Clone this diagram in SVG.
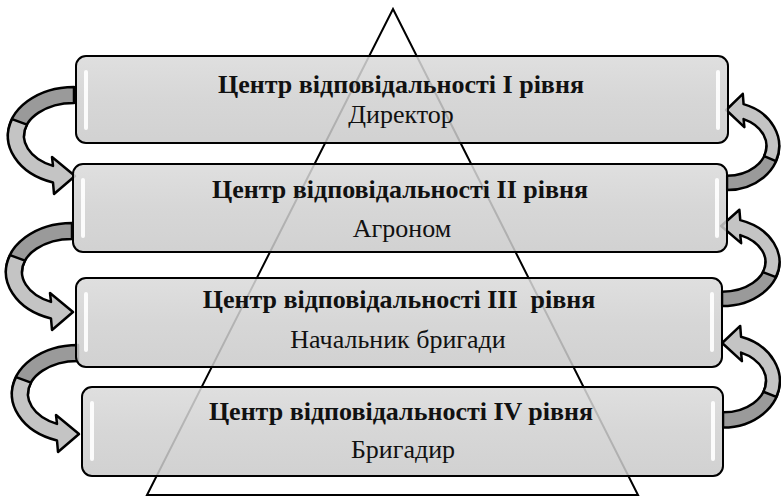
<svg xmlns="http://www.w3.org/2000/svg" xmlns:xlink="http://www.w3.org/1999/xlink" width="781" height="499" viewBox="0 0 781 499">
<style>
.box{fill:url(#boxGrad);fill-opacity:0.86;stroke:#000;stroke-width:2}
.gloss{fill:#fff;opacity:0.9}
.back{fill:#9a9a9a;stroke:#000;stroke-width:2.5;stroke-linejoin:round;vector-effect:non-scaling-stroke}
.front{fill:#c4c4c4;stroke:#000;stroke-width:2.5;stroke-linejoin:round;vector-effect:non-scaling-stroke}
.t1{font-family:"Liberation Serif","Times New Roman",serif;font-weight:bold;font-size:26px;fill:#111;text-anchor:middle}
.t2{font-family:"Liberation Serif","Times New Roman",serif;font-size:26px;fill:#111;text-anchor:middle}
.pyr{fill:#fff;stroke:#000;stroke-width:2;stroke-linejoin:miter}
</style>
<defs>
<linearGradient id="boxGrad" x1="0" y1="0" x2="0" y2="1">
<stop offset="0" stop-color="#dadada"/>
<stop offset="0.5" stop-color="#d0d0d0"/>
<stop offset="1" stop-color="#cacaca"/>
</linearGradient>
<g id="arrowL">
<path class="back" d="M 0,-49 A 66 49 0 0 0 -66,0 L -50,0 A 50 33 0 0 1 0,-33 Z"/>
<path class="front" d="M -62,-16.8 A 66 49 0 0 0 -21,46.5 L -20,58 L 1,40 L -22,21 L -21,29.9 A 50 33 0 0 1 -47,-11.3 Z"/>
</g>
</defs>
<rect x="0" y="0" width="781" height="499" fill="#fff"/>
<g id="pyramid">
<polygon class="pyr" points="393,9 638,495 147,495"/>
</g>
<g id="connectors">
<use href="#arrowL" transform="translate(74,136)"/>
<use href="#arrowL" transform="translate(72,272)"/>
<use href="#arrowL" transform="translate(78,394)"/>
<use href="#arrowL" transform="translate(727,146) rotate(180) scale(0.79,0.9)"/>
<use href="#arrowL" transform="translate(722,262) rotate(180) scale(0.87,0.9)"/>
<use href="#arrowL" transform="translate(723,381) rotate(180) scale(0.86,0.95)"/>
</g>
<g id="level1">
<rect class="box" x="76" y="56" width="652" height="87" rx="10"/>
<rect class="gloss" x="84" y="70" width="4" height="60" rx="2"/>
<rect class="gloss" x="716" y="70" width="4" height="60" rx="2"/>
<text class="t1" x="401" y="93">Центр відповідальності I рівня</text>
<text class="t2" x="401" y="123">Директор</text>
</g>
<g id="level2">
<rect class="box" x="73" y="164" width="654" height="88" rx="10"/>
<rect class="gloss" x="81" y="178" width="4" height="60" rx="2"/>
<rect class="gloss" x="715" y="178" width="4" height="60" rx="2"/>
<text class="t1" x="400" y="198">Центр відповідальності II рівня</text>
<text class="t2" x="402" y="237">Агроном</text>
</g>
<g id="level3">
<rect class="box" x="76" y="278" width="646" height="89" rx="10"/>
<rect class="gloss" x="84" y="292" width="4" height="60" rx="2"/>
<rect class="gloss" x="710" y="292" width="4" height="60" rx="2"/>
<text class="t1" x="399" y="308" xml:space="preserve">Центр відповідальності III  рівня</text>
<text class="t2" x="398" y="348">Начальник бригади</text>
</g>
<g id="level4">
<rect class="box" x="82" y="387" width="641" height="89" rx="10"/>
<rect class="gloss" x="90" y="401" width="4" height="60" rx="2"/>
<rect class="gloss" x="711" y="401" width="4" height="60" rx="2"/>
<text class="t1" x="401" y="420">Центр відповідальності IV рівня</text>
<text class="t2" x="403" y="458">Бригадир</text>
</g>
</svg>
